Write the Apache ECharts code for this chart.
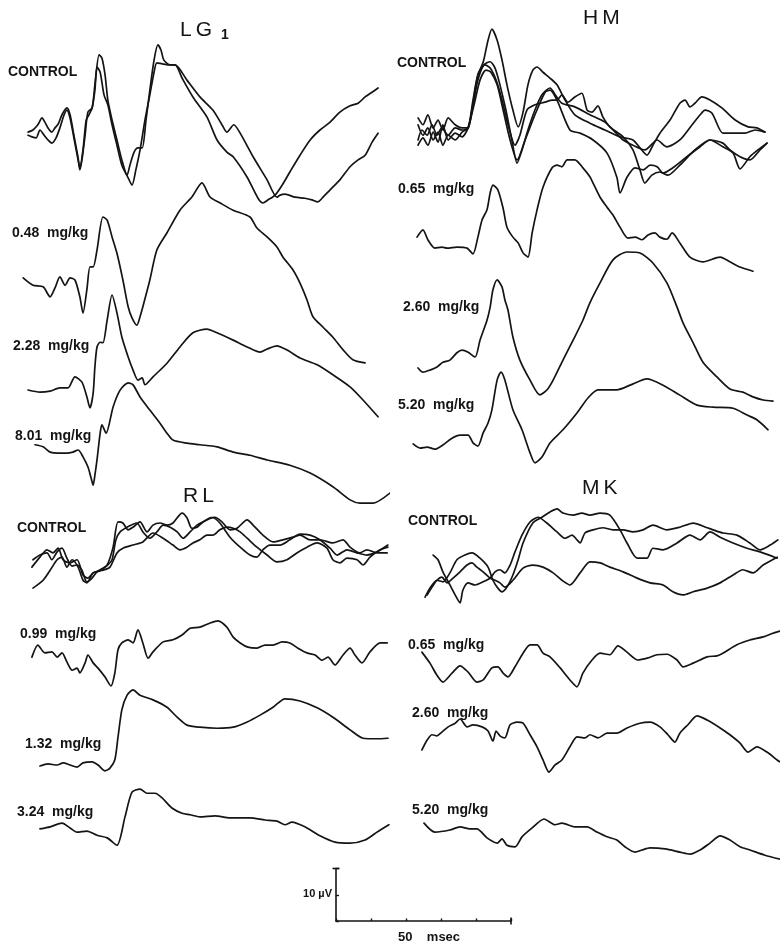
<!DOCTYPE html>
<html>
<head>
<meta charset="utf-8">
<script src="https://cdn.jsdelivr.net/npm/echarts@6/dist/echarts.min.js"></script>
<style>
  html, body { margin: 0; padding: 0; background: #fff; }
  #chart { width: 783px; height: 944px; }
</style>
</head>
<body>
<div id="chart"></div>
<script>
// Averaged evoked potentials, [time (ms), amplitude (µV)] per trace.

// ---- LG1 ----
const lgControlA = [[2.3,-0.4],[3.7,0],[5.1,1.0],[6.3,2.3],[7.1,1.5],[8.0,0.4],[9.1,-0.4],[10.0,0.4],[10.9,1.1],[12.0,2.9],[13.4,4.2],[14.3,2.9],[15.4,-1.0],[16.6,-5.3],[17.1,-7.6],[17.7,-5.7],[18.6,-1.0],[19.4,3.4],[20.6,4.2],[21.4,8.6],[22.6,14.3],[23.4,13.7],[24.3,10.5],[25.1,5.7],[26.3,1.9],[27.7,-1.9],[29.1,-5.7],[30.6,-8.6],[31.4,-6.7],[32.6,-4.2],[33.7,-3.4],[34.9,-3.4],[36.0,1.9],[37.1,7.6],[38.3,13.3],[39.4,16.2],[40.3,15.2],[41.1,13.3],[42.9,12.4],[44.3,12.4],[47.7,9.5],[51.4,6.3],[55.1,3.8],[57.7,1.0],[59.1,-0.4],[61.1,1.0],[62.9,-0.6],[66.6,-5.1],[70.6,-9.5],[73.4,-12.8],[74.3,-12.4],[75.7,-12.2],[78.6,-12.8],[81.4,-13.0],[83.4,-13.3],[85.1,-13.7],[86.3,-13.0],[88.6,-11.4],[91.4,-9.5],[94.3,-7.0],[96.6,-5.7],[98.6,-4.8],[100.6,-2.3],[102.3,-0.6]];
const lgControlB = [[2.3,-1.0],[3.4,-1.3],[4.6,-1.5],[5.7,0],[6.9,-1.0],[8.0,-1.9],[9.1,-2.5],[10.3,-1.5],[11.4,0.4],[12.6,2.9],[13.4,3.8],[14.3,2.3],[15.4,-1.5],[16.6,-5.7],[17.1,-7.2],[18.0,-3.8],[18.9,1.9],[19.7,2.9],[20.6,4.2],[21.4,7.6],[22.0,12.0],[22.9,11.0],[24.0,6.7],[25.1,4.8],[26.3,1.0],[27.7,-2.9],[29.1,-6.7],[30.9,-9.1],[32.0,-10.5],[33.1,-7.6],[34.3,-3.8],[35.7,1.9],[37.1,6.7],[38.3,11.0],[39.1,12.8],[40.6,12.6],[42.3,12.4],[44.3,12.4],[46.3,9.9],[49.4,6.3],[53.4,2.5],[56.3,-1.9],[59.1,-4.2],[60.9,-5.1],[64.9,-9.0],[68.0,-13.0],[69.4,-13.9],[70.9,-13.3],[72.9,-12.4],[74.9,-10.5],[77.1,-8.0],[80.0,-4.8],[82.9,-1.9],[85.7,0],[88.6,1.5],[91.4,3.4],[94.3,4.6],[96.6,5.1],[98.6,6.3],[100.6,7.2],[102.3,8.0]];
const lgDose048 = [[0.9,0.4],[3.7,-1.0],[6.6,-1.3],[8.6,-3.2],[10.0,-1.5],[11.4,0.6],[12.9,-1.0],[14.3,0.4],[15.7,0],[17.1,-3.2],[18.0,-6.3],[19.1,-1.9],[20.0,2.5],[20.9,2.5],[22.0,5.7],[23.7,12.0],[24.9,11.4],[26.3,8.2],[27.7,5.1],[29.4,0],[30.9,-5.1],[32.0,-7.2],[33.4,-8.6],[34.3,-7.0],[35.1,-5.1],[37.1,0],[39.1,5.7],[42.0,9.0],[45.7,13.3],[49.1,15.8],[52.0,18.5],[54.3,15.8],[57.1,14.7],[60.9,13.3],[65.7,12.0],[67.7,9.9],[70.6,8.2],[73.4,6.3],[75.1,4.4],[78.0,1.9],[80.0,-0.6],[82.0,-3.8],[83.7,-7.0],[86.6,-9.0],[89.4,-10.9],[92.3,-13.3],[95.1,-15.2],[98.6,-15.8]];
const lgDose228 = [[2.3,0],[5.7,-0.4],[8.6,-0.2],[11.4,0.4],[13.7,0.4],[15.7,2.5],[17.7,1.5],[19.1,-1.3],[20.0,-3.4],[20.9,-0.6],[21.4,4.4],[22.0,8.2],[22.9,9.1],[23.7,9.0],[24.9,13.3],[26.3,18.1],[27.7,14.7],[29.1,10.1],[30.9,6.3],[32.3,3.8],[33.7,1.9],[34.9,2.3],[35.7,1.0],[38.0,2.5],[42.0,5.1],[45.7,8.2],[49.4,10.9],[53.4,11.6],[56.3,10.9],[60.9,9.5],[64.9,8.2],[68.6,7.2],[70.6,7.8],[73.4,8.4],[76.3,7.6],[80.0,6.1],[84.9,4.8],[89.4,2.9],[94.3,0.6],[98.0,-1.9],[102.3,-5.1]];
const lgDose801 = [[4.3,1.0],[6.6,0.6],[8.6,-0.4],[10.9,-0.6],[13.4,-0.6],[15.1,-0.4],[16.6,0],[18.0,-1.3],[19.4,-3.2],[20.3,-5.3],[20.9,-6.7],[21.4,-4.8],[22.0,-1.9],[22.9,3.2],[23.4,4.8],[24.6,3.2],[26.6,8.2],[28.6,11.4],[30.9,12.8],[32.3,12.4],[34.3,10.1],[37.1,7.6],[40.0,5.1],[42.0,3.2],[43.7,1.9],[47.7,1.3],[51.4,1.0],[56.3,0.6],[60.9,-0.4],[65.7,-1.0],[70.6,-1.9],[77.1,-2.9],[82.9,-4.4],[89.4,-7.0],[94.3,-9.5],[97.1,-10.1],[100.9,-10.1],[105.7,-8.2]];

// ---- HM ----
const hmControlA = [[2.3,2.3],[3.7,1.0],[5.1,2.9],[6.6,0.4],[8.0,1.9],[9.4,0],[10.9,2.3],[12.9,1.0],[14.9,0.4],[16.6,0.4],[17.7,3.8],[19.4,10.5],[20.9,12.9],[22.3,17.1],[23.4,19.2],[24.9,17.1],[26.3,13.3],[27.7,8.6],[29.4,3.8],[30.9,0.6],[32.3,3.4],[33.7,8.6],[35.1,11.4],[36.3,12.0],[38.0,11.0],[40.0,9.9],[42.0,8.6],[44.3,5.7],[47.1,2.9],[51.4,1.3],[55.7,0],[60.0,-1.3],[63.7,-1.9],[65.7,-3.4],[67.7,-4.8],[69.4,-2.9],[71.4,-0.6],[74.3,1.9],[77.1,5.1],[78.6,5.7],[80.0,4.4],[81.4,5.1],[83.4,6.3],[85.7,5.7],[89.1,4.2],[92.9,1.9],[96.6,0.6],[99.1,0.4],[101.4,-0.4]];
const hmControlB = [[2.3,-1.9],[3.4,0],[4.9,-1.0],[6.3,1.0],[7.7,-1.0],[9.1,0.4],[10.9,-1.0],[12.9,0.4],[14.9,0],[16.6,0.4],[18.0,4.8],[19.4,9.5],[21.1,12.4],[22.9,13.0],[24.3,11.8],[25.7,8.6],[27.4,3.8],[29.1,-1.9],[30.6,-6.3],[32.0,-3.8],[33.7,0],[35.7,3.8],[37.7,6.7],[40.0,8.0],[41.7,6.5],[43.4,5.1],[47.1,4.4],[51.4,2.9],[55.7,1.5],[58.6,-0.4],[60.9,-1.9],[63.7,-2.9],[67.1,-3.8],[70.6,-1.9],[73.4,-3.2],[77.1,-1.9],[80.6,1.0],[82.9,2.9],[84.3,3.8],[86.3,3.2],[89.4,-0.6],[92.3,-0.6],[95.7,-0.6],[98.6,0],[101.4,-0.4]];
const hmControlC = [[2.3,1.0],[3.7,-1.0],[5.1,0.4],[6.6,-1.9],[8.0,-0.4],[9.4,-2.9],[10.9,-1.0],[12.9,-1.9],[14.9,-0.4],[16.6,0.4],[18.0,5.7],[19.4,10.5],[21.4,12.4],[22.9,11.8],[24.6,9.5],[26.3,5.7],[28.0,1.0],[30.0,-2.9],[31.4,-1.0],[33.4,3.8],[35.7,4.8],[38.6,5.3],[40.6,5.7],[42.0,5.7],[43.4,6.7],[45.1,5.3],[47.1,6.3],[49.1,7.0],[50.6,3.8],[52.0,3.4],[53.7,4.6],[55.1,2.5],[57.1,0.6],[60.9,-1.3],[63.7,-3.8],[65.7,-7.6],[67.1,-10.1],[69.1,-8.6],[71.4,-8.0],[73.7,-8.6],[77.1,-6.7],[81.4,-3.8],[85.7,-1.9],[89.4,-3.2],[92.3,-4.4],[94.3,-7.4],[97.1,-5.1],[99.4,-3.8],[102.0,-2.5]];
const hmControlD = [[2.3,-2.9],[3.7,-1.5],[5.1,-2.9],[6.6,-0.4],[8.0,-2.3],[9.4,1.0],[10.9,-1.9],[12.9,-0.6],[14.9,-1.3],[16.6,0.4],[18.3,4.8],[20.0,9.5],[21.7,11.4],[23.1,11.0],[24.9,8.6],[26.6,3.8],[28.6,-1.9],[30.6,-5.7],[32.9,-1.9],[35.7,2.9],[38.6,7.2],[40.0,7.6],[42.0,5.7],[45.7,0],[48.6,-0.6],[52.3,-1.9],[56.3,-4.4],[59.1,-9.0],[60.0,-12.0],[62.0,-9.0],[64.3,-7.2],[66.6,-7.6],[68.6,-6.7],[70.6,-7.0],[72.3,-8.2],[75.1,-7.2],[79.1,-5.1],[82.9,-3.2],[85.7,-1.9],[89.4,-2.5],[91.4,-3.8],[94.3,-5.1],[97.1,-5.7],[100.0,-3.8],[102.0,-2.5]];
const hmDose065 = [[2.0,1.5],[3.7,2.9],[5.1,1.0],[7.1,-0.6],[9.1,-0.4],[10.6,-0.6],[13.4,-0.4],[16.3,-0.6],[18.0,-1.7],[19.4,1.5],[20.6,4.8],[22.0,6.7],[22.9,9.9],[23.7,11.4],[25.1,10.5],[26.6,7.0],[27.7,3.4],[29.4,1.5],[30.9,0.4],[32.3,-1.5],[33.7,-2.3],[34.9,2.3],[36.3,6.7],[38.0,11.0],[40.6,14.7],[42.0,15.2],[43.4,14.9],[44.9,16.2],[47.1,16.2],[49.4,14.7],[51.4,13.0],[52.3,11.8],[54.3,9.1],[56.3,7.2],[58.0,5.7],[60.0,3.4],[62.3,1.3],[64.3,1.5],[66.3,1.0],[68.0,1.9],[70.0,2.3],[71.4,1.5],[73.4,1.1],[74.9,2.3],[77.1,0.4],[80.0,-2.3],[83.7,-3.2],[88.6,-2.3],[91.4,-3.2],[94.3,-4.2],[98.0,-5.0]];
const hmDose260 = [[2.3,0],[3.7,-0.8],[5.7,-0.4],[7.7,0.2],[9.4,1.1],[11.4,1.5],[13.4,2.9],[14.9,3.4],[16.6,3.0],[18.6,2.1],[20.0,5.3],[22.0,9.1],[22.9,11.6],[23.7,14.9],[24.9,16.8],[26.3,15.4],[27.1,13.0],[28.0,11.0],[29.4,5.9],[31.4,1.5],[34.3,-2.3],[37.1,-5.1],[39.1,-4.2],[40.9,-2.3],[43.7,1.5],[46.6,5.3],[49.4,9.1],[51.4,12.4],[54.3,16.2],[58.0,20.6],[62.0,22.1],[65.7,21.9],[69.4,20.0],[73.4,16.2],[76.3,11.6],[78.0,8.6],[80.9,4.8],[83.7,1.1],[87.7,-1.7],[91.4,-4.0],[95.1,-4.6],[98.0,-5.5],[100.9,-6.1],[103.7,-6.3]];
const hmDose520 = [[0.9,0.2],[2.9,-0.6],[4.9,-0.4],[7.1,-0.8],[9.4,0],[12.0,1.3],[14.3,1.9],[16.6,1.9],[18.0,0.4],[19.4,-0.2],[20.9,2.3],[22.3,4.2],[23.4,6.7],[24.9,12.4],[26.0,13.9],[27.1,12.4],[29.4,6.7],[32.0,2.9],[34.3,-1.5],[35.7,-3.4],[37.7,-2.3],[40.0,0.4],[43.7,2.9],[47.7,6.1],[50.9,9.0],[53.7,10.5],[59.1,10.5],[62.9,11.4],[67.7,12.6],[72.3,11.4],[77.1,9.5],[82.0,7.6],[86.6,7.2],[92.3,7.0],[96.3,5.7],[99.1,4.8],[102.3,2.9]];

// ---- RL ----
const rlControlA = [[3.4,-0.4],[5.7,1.5],[7.7,2.9],[9.4,2.3],[10.9,3.2],[12.3,1.0],[14.3,0.4],[16.3,1.0],[18.0,-1.9],[19.4,-2.5],[20.9,-1.5],[22.9,-1.0],[24.9,0],[26.6,3.4],[28.0,8.2],[29.4,8.0],[30.9,6.7],[32.3,7.2],[34.3,8.2],[36.3,6.3],[38.0,7.6],[40.0,8.0],[42.0,7.6],[43.7,8.0],[46.3,9.9],[47.7,9.0],[49.1,7.0],[50.6,7.2],[52.3,8.2],[54.3,9.0],[55.7,9.1],[57.7,8.2],[60.0,6.7],[62.0,7.0],[64.9,8.6],[66.6,7.6],[69.4,5.7],[72.3,4.4],[75.1,4.8],[78.0,5.3],[80.0,5.7],[82.9,4.8],[85.7,4.8],[89.4,4.2],[92.3,4.8],[94.3,3.4],[97.1,2.3],[99.1,2.9],[102.0,2.3],[104.9,2.3]];
const rlControlB = [[3.7,1.0],[5.7,1.9],[7.7,2.3],[9.1,1.0],[10.6,2.5],[12.0,3.2],[13.4,1.3],[14.9,-0.2],[16.3,0],[17.7,-1.0],[19.1,-3.2],[20.6,-2.5],[22.0,-1.3],[23.7,-0.6],[25.1,0],[26.3,1.0],[27.4,4.8],[28.6,6.3],[30.6,7.2],[33.4,8.0],[35.1,6.3],[37.1,5.1],[39.1,6.3],[40.9,7.6],[42.9,7.2],[44.9,6.3],[46.6,5.1],[48.6,6.3],[50.6,7.6],[52.3,8.2],[55.1,9.0],[57.1,8.0],[60.0,5.3],[62.9,3.4],[65.7,1.9],[67.7,1.5],[69.4,2.9],[71.4,3.8],[74.3,3.8],[77.1,4.8],[80.0,5.9],[82.9,5.7],[85.7,4.8],[88.6,3.2],[90.6,1.9],[93.4,2.9],[96.3,2.3],[99.1,1.9],[102.0,2.5],[105.1,3.8]];
const rlControlC = [[3.7,-4.4],[6.6,-2.9],[8.6,-1.0],[10.6,1.0],[12.0,1.5],[13.4,-0.4],[14.9,1.0],[16.6,-0.4],[18.0,-2.9],[19.1,-3.4],[20.9,-1.5],[23.7,-1.0],[25.7,-0.4],[27.7,2.3],[29.4,3.2],[32.3,3.8],[35.1,4.4],[38.0,6.1],[40.9,5.1],[43.7,3.8],[45.7,2.9],[47.7,3.4],[49.4,4.2],[51.4,4.8],[53.4,5.7],[55.1,5.7],[57.1,6.7],[59.1,7.2],[60.9,7.0],[62.9,6.3],[64.9,5.1],[67.7,3.4],[70.6,1.9],[73.4,0.6],[76.3,1.0],[79.1,2.3],[82.0,3.4],[84.9,4.2],[87.7,3.2],[89.4,1.0],[91.4,0.4],[93.4,1.3],[96.3,1.0],[98.0,0],[100.0,1.5],[102.9,2.9],[105.1,3.4]];
const rlDose099 = [[3.4,-0.4],[5.1,1.9],[7.1,0.4],[9.1,0.6],[10.6,-0.4],[12.0,0.4],[13.4,-1.3],[14.9,-2.9],[16.3,-2.5],[17.1,-3.4],[18.6,-1.5],[19.4,0],[20.9,-1.5],[22.3,-2.5],[24.3,-4.2],[26.0,-5.9],[27.1,-3.4],[28.0,1.0],[29.1,2.3],[30.9,2.9],[32.3,2.3],[33.7,4.8],[35.1,2.3],[36.6,-0.6],[38.0,0.6],[40.9,2.5],[43.7,2.9],[46.3,3.8],[48.6,5.1],[51.4,5.3],[54.3,6.1],[56.6,6.5],[59.1,5.3],[60.9,3.4],[62.9,2.3],[65.1,1.5],[67.7,1.3],[70.0,1.9],[72.3,1.9],[74.9,2.5],[77.1,2.3],[79.4,1.3],[82.0,0.4],[84.3,0],[86.3,-1.0],[88.0,-0.4],[90.0,-1.9],[92.3,0],[94.3,1.3],[95.7,0],[97.7,-1.5],[100.0,0.6],[102.9,2.3],[104.9,2.3]];
const rlDose132 = [[5.7,-0.2],[8.0,0.2],[10.6,0],[12.3,0.4],[14.3,0],[16.3,-0.4],[18.0,0.4],[20.6,0.6],[22.3,0],[24.3,-1.1],[25.7,-0.6],[27.1,1.0],[28.0,5.3],[29.1,10.5],[30.6,13.3],[32.3,14.3],[34.3,13.3],[38.0,12.4],[42.0,11.0],[44.9,9.1],[47.7,7.6],[51.4,7.2],[56.3,7.0],[60.9,7.2],[64.9,8.2],[68.6,9.5],[72.3,11.0],[75.7,12.6],[80.0,12.2],[84.9,10.9],[89.4,9.1],[94.3,6.7],[98.0,5.1],[102.0,5.0],[105.1,5.1]];
const rlDose324 = [[5.7,0.2],[8.6,0.6],[12.0,1.3],[14.3,0.4],[16.3,-0.4],[19.1,-0.2],[22.0,-1.0],[24.9,-1.5],[27.7,-2.9],[30.0,2.5],[32.0,7.2],[34.3,7.8],[36.3,7.0],[38.6,7.0],[40.6,6.1],[43.4,4.2],[46.3,3.2],[48.6,2.9],[51.4,2.5],[55.7,2.7],[60.0,2.3],[65.7,2.3],[70.0,1.9],[73.4,1.7],[75.7,1.0],[77.7,1.5],[81.4,0.6],[85.7,-1.1],[90.0,-2.3],[94.3,-2.5],[98.6,-1.9],[102.0,-0.4],[105.4,1.0]];

// ---- MK ----
const mkControlA = [[4.3,-4.2],[5.7,-2.5],[7.7,-1.0],[9.4,-1.3],[11.4,0.4],[13.4,2.9],[15.7,3.8],[17.7,4.2],[20.0,3.2],[22.3,1.5],[23.7,-1.0],[25.1,-2.5],[26.3,-3.2],[27.7,-2.3],[29.4,0],[30.9,2.9],[32.3,6.1],[35.1,9.9],[37.7,11.0],[40.0,12.0],[42.0,12.6],[43.7,11.8],[46.6,11.4],[49.1,11.8],[51.4,11.4],[54.3,11.8],[57.1,11.4],[60.0,8.6],[62.0,6.1],[64.9,3.2],[67.7,3.2],[69.4,5.1],[72.3,4.8],[76.3,6.1],[80.0,7.6],[82.9,6.7],[85.7,8.2],[88.6,7.2],[92.3,6.1],[96.3,5.1],[100.0,4.4],[104.9,3.2]];
const mkControlB = [[6.6,3.8],[8.0,2.9],[9.4,0.6],[11.4,-1.9],[12.9,-3.8],[14.3,-5.3],[15.1,-2.9],[16.6,-1.5],[18.6,-1.9],[20.9,-1.3],[22.9,-0.6],[24.3,0.6],[25.7,1.0],[27.1,0.4],[28.6,1.9],[30.0,4.4],[32.0,7.6],[34.3,10.1],[36.6,11.0],[39.1,9.9],[42.0,8.2],[44.3,7.0],[46.3,7.6],[47.7,6.7],[48.6,6.1],[50.0,8.0],[52.3,8.6],[55.1,9.0],[58.0,8.6],[60.9,8.6],[63.7,8.2],[66.6,8.6],[69.4,9.5],[73.4,8.6],[77.1,9.1],[80.9,9.9],[84.9,9.0],[86.6,8.6],[89.4,8.0],[93.4,7.6],[97.1,6.1],[100.0,4.8],[102.9,5.7],[105.1,6.7]];
const mkControlC = [[4.9,-3.8],[6.3,-2.3],[7.7,-1.0],[9.1,-0.4],[10.6,-1.5],[12.3,-0.6],[14.3,0.6],[16.3,1.9],[17.7,2.3],[19.1,1.5],[20.9,0.6],[22.9,-0.6],[24.3,-1.0],[25.7,-1.5],[27.1,-2.3],[29.4,-1.0],[32.3,1.3],[35.1,1.9],[38.0,1.5],[40.9,0.4],[43.4,-1.0],[45.7,-1.9],[48.6,0.4],[51.4,2.5],[54.3,2.3],[57.1,1.5],[60.9,0.6],[64.9,-0.6],[68.6,-1.5],[72.3,-1.9],[75.1,-3.2],[78.0,-3.8],[80.9,-3.2],[84.9,-2.5],[88.6,-1.5],[92.3,0],[95.1,1.0],[98.0,0.4],[100.9,1.9],[104.9,3.4]];
const mkDose065 = [[3.4,1.5],[5.7,-0.6],[7.7,-2.9],[9.4,-4.2],[12.0,-2.5],[14.3,-1.1],[16.6,-2.3],[19.1,-4.2],[20.9,-3.8],[23.4,-1.5],[25.1,-1.3],[26.6,-2.5],[28.0,-3.2],[30.0,-1.3],[32.3,1.3],[34.3,2.9],[36.3,2.9],[38.0,1.3],[40.0,0.6],[42.9,-1.5],[45.7,-3.8],[47.7,-5.1],[49.4,-2.5],[52.0,0],[54.3,1.3],[57.1,1.0],[59.4,2.7],[62.0,1.5],[65.1,0],[68.0,0.4],[70.6,1.0],[73.4,1.1],[76.3,0],[78.0,-1.3],[80.9,-0.6],[84.9,0.6],[87.7,0.8],[89.4,1.3],[93.4,2.9],[97.1,3.8],[100.9,4.4],[103.7,5.1],[105.7,5.5]];
const mkDose260 = [[3.4,-1.9],[4.9,0],[6.3,1.0],[7.7,0.8],[9.1,1.5],[10.9,2.5],[12.9,3.2],[14.3,4.0],[16.3,2.5],[18.0,2.9],[20.6,2.5],[22.3,1.7],[23.7,-0.2],[24.6,1.7],[25.7,0.8],[27.1,0.4],[28.6,2.9],[30.6,3.4],[32.3,3.2],[34.3,1.0],[36.3,-1.3],[38.0,-3.8],[39.7,-6.1],[41.4,-4.8],[43.4,-3.8],[45.7,-1.3],[47.7,0.6],[50.0,0.4],[51.4,1.0],[53.7,0.4],[56.3,1.3],[59.1,1.3],[62.0,2.3],[65.7,3.2],[68.6,3.4],[71.4,2.5],[73.7,1.0],[75.7,-0.4],[77.1,1.3],[79.4,2.9],[82.0,4.6],[84.9,3.8],[88.6,2.3],[91.4,1.0],[94.3,-0.6],[96.6,-2.3],[99.1,-1.3],[102.0,-2.3],[104.9,-3.8],[106.3,-4.4]];
const mkDose520 = [[4.0,1.3],[7.1,-0.4],[11.4,0],[14.3,0.6],[17.1,0.2],[19.1,0.2],[22.0,-1.5],[24.9,-2.5],[26.3,-1.7],[27.7,-2.9],[30.0,-3.2],[32.0,-1.3],[34.9,0.4],[38.3,2.1],[41.4,1.0],[43.4,1.3],[47.1,0.6],[50.6,0.6],[53.4,-0.4],[56.3,-1.3],[59.1,-1.9],[61.4,-3.2],[64.3,-4.2],[66.3,-3.8],[68.6,-3.4],[72.9,-3.6],[77.1,-4.2],[80.0,-4.6],[82.9,-3.8],[85.7,-2.5],[88.6,-1.1],[91.4,-1.9],[94.3,-3.2],[97.1,-3.8],[101.4,-4.8],[106.6,-5.7]];

// Calibration bar values
const calMs = 50, calMsTick = 10, calUv = 10, calUvTick = 5;

// Panel titles and trace labels
const panelTitles = [['LG', '1'], ['HM', ''], ['RL', ''], ['MK', '']];
const doseLabels = [
  ['CONTROL', '0.48  mg/kg', '2.28  mg/kg', '8.01  mg/kg'],
  ['CONTROL', '0.65  mg/kg', '2.60  mg/kg', '5.20  mg/kg'],
  ['CONTROL', '0.99  mg/kg', '1.32  mg/kg', '3.24  mg/kg'],
  ['CONTROL', '0.65  mg/kg', '2.60  mg/kg', '5.20  mg/kg']
];
const panelTraces = [
  [[lgControlA, lgControlB], [lgDose048], [lgDose228], [lgDose801]],
  [[hmControlA, hmControlB, hmControlC, hmControlD], [hmDose065], [hmDose260], [hmDose520]],
  [[rlControlA, rlControlB, rlControlC], [rlDose099], [rlDose132], [rlDose324]],
  [[mkControlA, mkControlB, mkControlC], [mkDose065], [mkDose260], [mkDose520]]
];

// ---------- layout ----------
const PX_PER_MS = 3.5, PX_PER_UV = 5.25;
const SPAN_MS = 105, UV_MIN = -18, UV_MAX = 24;
const INK = '#141414';
const FONT = '"Liberation Sans", Arial, Helvetica, sans-serif';

const panelLayout = [
  { x0: 20,  baselines: [130, 280, 390, 450], labelPos: [[8,72],[12,233],[13,346],[15,436]],   title: [180, 30],  sub: [221, 35] },
  { x0: 410, baselines: [130, 245, 368, 445], labelPos: [[397,63],[398,189],[403,307],[398,405]], title: [583, 18], sub: null },
  { x0: 20,  baselines: [565, 655, 765, 830], labelPos: [[17,528],[20,634],[25,744],[17,812]],  title: [183, 496], sub: null },
  { x0: 410, baselines: [575, 660, 740, 830], labelPos: [[408,521],[408,645],[412,713],[412,810]], title: [582, 488], sub: null }
];

const grids = [], xAxes = [], yAxes = [], series = [], graphics = [];

panelLayout.forEach((p, pi) => {
  p.baselines.forEach((base, ri) => {
    const gi = grids.length;
    grids.push({
      left: p.x0, width: SPAN_MS * PX_PER_MS,
      top: base - UV_MAX * PX_PER_UV, height: (UV_MAX - UV_MIN) * PX_PER_UV,
      containLabel: false
    });
    xAxes.push({ gridIndex: gi, type: 'value', min: 0, max: SPAN_MS, show: false });
    yAxes.push({ gridIndex: gi, type: 'value', min: UV_MIN, max: UV_MAX, show: false });
    panelTraces[pi][ri].forEach(trace => {
      series.push({
        type: 'line', xAxisIndex: gi, yAxisIndex: gi, data: trace,
        showSymbol: false, symbol: 'none', smooth: 0.25, clip: false, silent: true,
        lineStyle: { color: INK, width: 1.7, cap: 'round', join: 'round' }
      });
    });
    const lp = p.labelPos[ri];
    graphics.push({
      type: 'text', x: lp[0], y: lp[1], silent: true,
      style: { text: doseLabels[pi][ri], font: 'bold 14px ' + FONT, fill: INK,
               textAlign: 'left', textVerticalAlign: 'middle' }
    });
  });
  // spaced title letters
  const letters = panelTitles[pi][0].split('');
  graphics.push({
    type: 'text', x: p.title[0] - 2, y: p.title[1], silent: true,
    style: {
      text: letters.map(c => '{t|' + c + '}').join(''),
      rich: { t: { font: '21px ' + FONT, fill: INK, padding: [0, 2, 0, 2] } },
      textAlign: 'left', textVerticalAlign: 'middle'
    }
  });
  if (panelTitles[pi][1]) {
    graphics.push({
      type: 'text', x: p.sub[0], y: p.sub[1], silent: true,
      style: { text: panelTitles[pi][1], font: 'bold 14px ' + FONT, fill: INK,
               textAlign: 'left', textVerticalAlign: 'middle' }
    });
  }
});

// calibration bar as a real pair of axes
const calIndex = grids.length;
grids.push({ left: 336, top: 921 - calUv * PX_PER_UV, width: calMs * PX_PER_MS, height: calUv * PX_PER_UV });
const calLine = { show: true, onZero: false, lineStyle: { color: INK, width: 1.6 },
                  symbol: ['none', 'rect'], symbolSize: [7, 1.6] };
xAxes.push({
  gridIndex: calIndex, type: 'value', min: 0, max: calMs, interval: calMsTick,
  axisLine: calLine,
  axisTick: { show: true, inside: true, length: 2.5, lineStyle: { color: INK, width: 1.4 } },
  axisLabel: { show: false }, splitLine: { show: false }
});
yAxes.push({
  gridIndex: calIndex, type: 'value', min: 0, max: calUv, interval: calUvTick,
  axisLine: calLine,
  axisTick: { show: true, inside: true, length: 3, lineStyle: { color: INK, width: 1.4 } },
  axisLabel: { show: false }, splitLine: { show: false }
});
graphics.push({
  type: 'text', x: 332, y: 894, silent: true,
  style: { text: calUv + ' µV', font: 'bold 11px ' + FONT, fill: INK, textAlign: 'right', textVerticalAlign: 'middle' }
});
graphics.push({
  type: 'text', x: 429, y: 937, silent: true,
  style: { text: calMs + '    msec', font: 'bold 13px ' + FONT, fill: INK, textAlign: 'center', textVerticalAlign: 'middle' }
});

const chart = echarts.init(document.getElementById('chart'), null, { renderer: 'canvas' });
chart.setOption({
  backgroundColor: '#ffffff',
  animation: false,
  grid: grids,
  xAxis: xAxes,
  yAxis: yAxes,
  series: series,
  graphic: { elements: graphics }
});
</script>
</body>
</html>
